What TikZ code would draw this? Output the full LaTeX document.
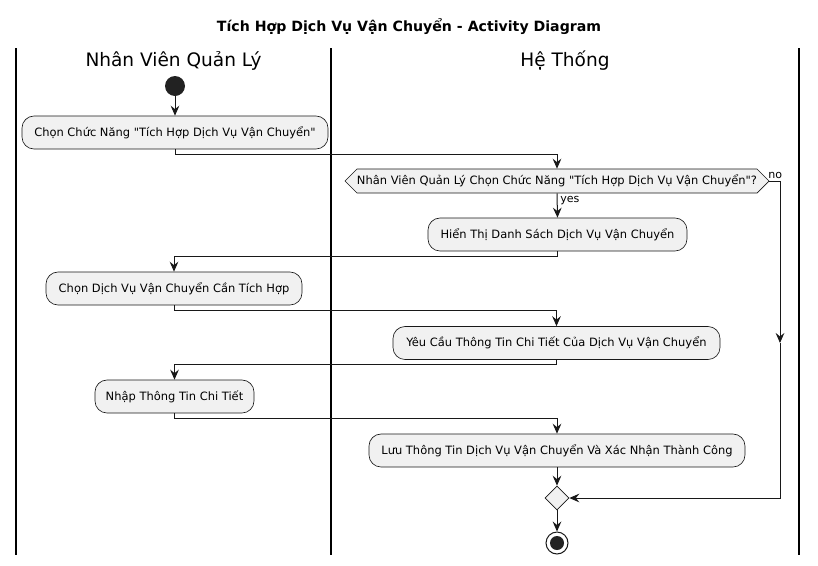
\documentclass[tikz,border=0pt]{standalone}
\usepackage{fontspec}
\newfontfamily\djv{DejaVu Sans}
\usetikzlibrary{arrows.meta,shapes.geometric,shapes.symbols}
\definecolor{fillc}{HTML}{F1F1F1}
\definecolor{linec}{HTML}{181818}
\definecolor{startc}{HTML}{222222}
\tikzset{
  actbox/.style={draw=linec, line width=0.5pt, fill=fillc, rounded corners=9pt,
    minimum height=24.75pt, inner sep=0pt, font=\djv\fontsize{8.6pt}{10.5pt}\selectfont},
  decbox/.style={draw=linec, line width=0.5pt, fill=fillc, signal, signal to=west and east,
    signal pointer angle=90, minimum height=18pt, inner sep=0pt, font=\djv\fontsize{8.6pt}{10.5pt}\selectfont},
  mergebox/.style={draw=linec, line width=0.5pt, fill=fillc, diamond, minimum width=18pt, minimum height=18pt, inner sep=0pt},
  arr/.style={draw=linec, line width=0.75pt, -{Stealth[length=7.5pt,width=6.5pt,inset=2.6pt]}},
  lane/.style={draw=black, line width=1.1pt},
  lbl/.style={font=\djv\fontsize{8.3pt}{10pt}\selectfont, inner sep=0pt},
}
\begin{document}
\begin{tikzpicture}[x=0.75pt, y=-0.75pt]
\useasboundingbox (0,0) rectangle (818,565);
% title
\node[font=\djv\bfseries\fontsize{10.6pt}{12pt}\selectfont] (title) at (409,27) {Tích Hợp Dịch Vụ Vận Chuyển - Activity Diagram};
% swimlanes
\draw[lane] (16,48) -- (16,555);
\draw[lane] (331,48) -- (331,555);
\draw[lane] (799,48) -- (799,555);
\node[font=\djv\fontsize{13.9pt}{16pt}\selectfont] (h1) at (173.5,61) {Nhân Viên Quản Lý};
\node[font=\djv\fontsize{13.9pt}{16pt}\selectfont] (h2) at (565,61) {Hệ Thống};
% nodes
\node[circle, fill=startc, minimum size=15pt, inner sep=0pt] (start) at (175,86) {};
\node[actbox, minimum width=229.5pt] (a1) at (175,132.5) {Chọn Chức Năng "Tích Hợp Dịch Vụ Vận Chuyển"};
\node[decbox, minimum width=315pt] (dec) at (557,181) {Nhân Viên Quản Lý Chọn Chức Năng "Tích Hợp Dịch Vụ Vận Chuyển"?};
\node[actbox, minimum width=194.25pt] (a2) at (557.5,234.5) {Hiển Thị Danh Sách Dịch Vụ Vận Chuyển};
\node[actbox, minimum width=192pt] (a3) at (174,288.5) {Chọn Dịch Vụ Vận Chuyển Cần Tích Hợp};
\node[actbox, minimum width=245.25pt] (a4) at (556.5,343) {Yêu Cầu Thông Tin Chi Tiết Của Dịch Vụ Vận Chuyển};
\node[actbox, minimum width=119.25pt] (a5) at (174.5,396.5) {Nhập Thông Tin Chi Tiết};
\node[actbox, minimum width=282pt] (a6) at (557,450.5) {Lưu Thông Tin Dịch Vụ Vận Chuyển Và Xác Nhận Thành Công};
\node[mergebox] (merge) at (557,498) {};
\node[circle, draw=linec, line width=0.75pt, fill=white, minimum size=16.5pt, inner sep=0pt] (end) at (557,543) {};
\node[circle, fill=startc, minimum size=10.5pt, inner sep=0pt] (endin) at (557,543) {};
% connectors
\draw[arr] (start) -- (a1);
\draw[arr] (a1.south) -- ++(0,5) -| (dec.north);
\draw[arr] (dec.south) -- node[lbl, anchor=west, pos=0.3, xshift=2pt] (yes) {yes} (a2.north);
\draw[arr] (a2.south) -- ++(0,5) -| (a3.north);
\draw[arr] (a3.south) -- ++(0,5) -| (a4.north);
\draw[arr] (a4.south) -- ++(0,5) -| (a5.north);
\draw[arr] (a5.south) -- ++(0,5) -| (a6.north);
\draw[arr] (a6) -- (merge);
\coordinate (nc) at (780,181);
\coordinate (nm) at (780,343);
\coordinate (nb) at (780,498);
\node[lbl, anchor=south west] (no) at (768,179) {no};
\draw[arr] (dec.east) -- (nc) -- (nm);
\draw[arr] (nm) -- (nb) -- (merge.east);
\draw[arr] (merge) -- (end);
\end{tikzpicture}
\end{document}
